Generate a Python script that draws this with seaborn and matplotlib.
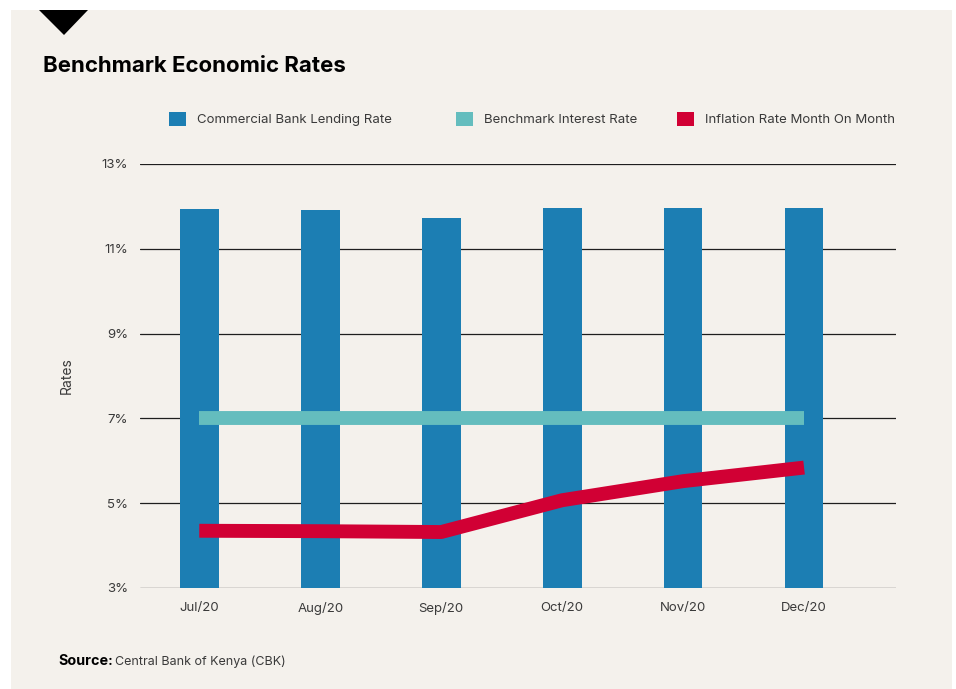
import matplotlib
matplotlib.use("Agg")
import matplotlib.pyplot as plt
from matplotlib.patches import Rectangle, Polygon, Patch
from matplotlib.ticker import FixedLocator
import numpy as np
import pandas as pd
import seaborn as sns

# --- data -------------------------------------------------------------
months = ["Jul/20", "Aug/20", "Sep/20", "Oct/20", "Nov/20", "Dec/20"]
lending_rate = [11.94, 11.91, 11.72, 11.97, 11.97, 11.97]
benchmark_rate = [7.0, 7.0, 7.0, 7.0, 7.0, 7.0]
inflation_rate = [4.35, 4.34, 4.32, 5.07, 5.52, 5.84]
y_ticks = [3, 5, 7, 9, 11, 13]
series_names = ["Commercial Bank Lending Rate", "Benchmark Interest Rate",
                "Inflation Rate Month On Month"]

BLUE = "#1c7eb3"
TEAL = "#64bdbe"
RED = "#d10034"
PANEL = "#f4f1ec"
TEXT = "#3a3a3a"

sns.set_theme(style="white")
plt.rcParams["font.family"] = ["Inter", "DejaVu Sans"]

W, H = 956, 689
fig = plt.figure(figsize=(W / 100, H / 100), dpi=100)
fig.patch.set_facecolor("white")


def fx(px):
    return px / W


def fy(py):
    return 1 - py / H


# beige card and marker triangle
fig.add_artist(Rectangle((fx(11), fy(689)), fx(952) - fx(11), fy(10) - fy(689),
                         transform=fig.transFigure, facecolor=PANEL,
                         edgecolor="none", zorder=0))
fig.add_artist(Polygon([(fx(39), fy(10)), (fx(88), fy(10)), (fx(64), fy(35))],
                       closed=True, transform=fig.transFigure,
                       facecolor="black", edgecolor="none", zorder=1))

fig.text(fx(43), fy(66), "Benchmark Economic Rates", fontsize=16,
         fontweight="bold", color="black", va="center", ha="left")

ax = fig.add_axes([fx(140), fy(588), fx(896) - fx(140), fy(164) - fy(588)])
ax.set_facecolor("none")

df = pd.DataFrame({"month": months, "lending": lending_rate,
                   "benchmark": benchmark_rate, "inflation": inflation_rate})
df["pos"] = np.arange(len(df))

# gridlines behind the bars
for t in y_ticks:
    ax.axhline(t, color="#1e1e1e", lw=0.9, zorder=0.5)

sns.barplot(data=df, x="month", y="lending", color=BLUE, width=0.32,
            saturation=1, linewidth=0, edgecolor="none", ax=ax, zorder=2)
sns.lineplot(data=df, x="pos", y="benchmark", color=TEAL, lw=10, ax=ax,
             zorder=3, solid_capstyle="butt")
sns.lineplot(data=df, x="pos", y="inflation", color=RED, lw=10, ax=ax,
             zorder=4, solid_capstyle="butt", solid_joinstyle="round")

ax.set_ylim(3, 13)
ax.set_xlim(-0.49, 5.76)
ax.yaxis.set_major_locator(FixedLocator(y_ticks))
ax.set_yticklabels([f"{t}%" for t in y_ticks])
ax.set_xticks(range(len(months)))
ax.set_xticklabels(months)
ax.tick_params(axis="both", length=0, labelsize=9.5, labelcolor=TEXT)
ax.tick_params(axis="y", pad=8.5)
ax.tick_params(axis="x", pad=10)
ax.set_xlabel("")
ax.set_ylabel("Rates", fontsize=10, color=TEXT, labelpad=20)
for s in ax.spines.values():
    s.set_visible(False)

# legend: one entry per series, laid out across the top
legend_colors = [BLUE, TEAL, RED]
legend_x = [169, 456, 677]
for name, col, xpx in zip(series_names, legend_colors, legend_x):
    fig.legend(handles=[Patch(facecolor=col, edgecolor="none", label=name)],
               loc="center left", bbox_to_anchor=(fx(xpx), fy(119)),
               frameon=False, fontsize=9.5, labelcolor=TEXT,
               handlelength=1.29, handleheight=1.29, handletextpad=0.85,
               borderpad=0, borderaxespad=0)

fig.text(fx(58), fy(665), "Source:", fontsize=10.3, fontweight="bold",
         color="black", va="baseline", ha="left")
fig.text(fx(115), fy(665), "Central Bank of Kenya (CBK)", fontsize=9,
         color=TEXT, va="baseline", ha="left")

fig.savefig("out.png", dpi=100, facecolor=fig.get_facecolor())
